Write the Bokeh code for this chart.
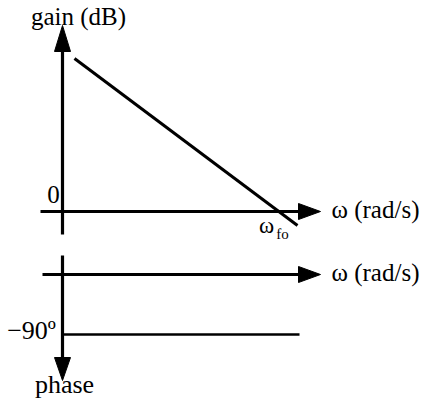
from bokeh.plotting import figure
from bokeh.models import Range1d
from bokeh.core.properties import value
from bokeh.embed import file_html
from bokeh.resources import INLINE

# ---- data (schematic units) ----
gain_omega = [12, 235]
gain_db = [153, -14]
phase_omega = [0, 237]
phase_deg = [-123, -123]
phase_axis_level = -63
gain_labels = ["gain (dB)", "0", "ω (rad/s)"]
phase_labels = ["ω (rad/s)", "−90º", "phase"]

FONT = value("Liberation Serif")
BLK = "black"
FS = "25px"

p = figure(width=421, height=401, output_backend="svg", toolbar_location=None,
           x_range=Range1d(-62, 359), y_range=Range1d(-190, 211),
           min_border=0)
p.xaxis.visible = False
p.yaxis.visible = False
p.grid.visible = False
p.outline_line_color = None
p.background_fill_color = "white"

def arrow_head(tx, ty, dx, dy, length=23, half=8):
    bx, by = tx - dx * length, ty - dy * length
    nx, ny = -dy, dx
    return [tx, bx + nx * half, bx - nx * half], [ty, by + ny * half, by - ny * half]

# gain axes
p.line([0, 0], [-23, 165], line_color=BLK, line_width=3.2)
p.line([-22, 238], [0, 0], line_color=BLK, line_width=3.2)
# phase axes
p.line([0, 0], [-44, -147], line_color=BLK, line_width=3.2)
p.line([-20, 238], [phase_axis_level, phase_axis_level], line_color=BLK, line_width=3.2)

heads = [arrow_head(0, 186, 0, 1, 26, 8), arrow_head(258, 0, 1, 0, 22, 8),
         arrow_head(0, -169, 0, -1, 23, 8), arrow_head(258, phase_axis_level, 1, 0, 22, 8)]
p.patches([h[0] for h in heads], [h[1] for h in heads], fill_color=BLK, line_color=BLK)

# data lines
p.line(gain_omega, gain_db, line_color=BLK, line_width=3)
p.line(phase_omega, phase_deg, line_color=BLK, line_width=2.6)

# texts
p.text(x=[16], y=[195], text=[gain_labels[0]], text_font=FONT, text_font_size=FS,
       text_align="center", text_baseline="middle", text_color=BLK)
p.text(x=[-9], y=[17], text=[gain_labels[1]], text_font=FONT, text_font_size=FS,
       text_align="center", text_baseline="middle", text_color=BLK)
p.text(x=[269, 269], y=[2, phase_axis_level + 2], text=[gain_labels[2], phase_labels[0]],
       text_font=FONT, text_font_size=FS,
       text_align="left", text_baseline="middle", text_color=BLK)
p.text(x=[204], y=[-14], text=["ω"], text_font=FONT, text_font_size="23px",
       text_align="center", text_baseline="middle", text_color=BLK)
p.text(x=[220], y=[-22], text=["fo"], text_font=FONT, text_font_size="15px",
       text_align="center", text_baseline="middle", text_color=BLK)
p.text(x=[-31], y=[-119], text=[phase_labels[1]], text_font=FONT, text_font_size="26px",
       text_align="center", text_baseline="middle", text_color=BLK)
p.text(x=[2], y=[-173], text=[phase_labels[2]], text_font=FONT, text_font_size="26px",
       text_align="center", text_baseline="middle", text_color=BLK)

open("out.html", "w").write(file_html(p, INLINE))
